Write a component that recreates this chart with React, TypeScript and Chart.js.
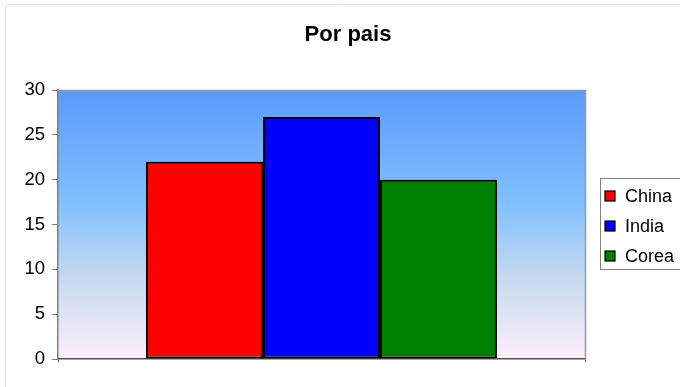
import React, { useEffect, useRef } from 'react';
import { Chart, registerables } from 'chart.js';

Chart.register(...registerables);

// Chart content
const chartTitle = 'Por pais';
const categories = [''];
const seriesNames = ['China', 'India', 'Corea'];
const seriesValues = [22, 27, 20];
const seriesColors = ['#ff0000', '#0000ff', '#008000'];
const yMin = 0;
const yMax = 30;
const yStep = 5;

const FONT = "'Liberation Sans', Arial, Helvetica, sans-serif";

// Gradient plot background, plot frame and faint outer frame
const plotBackground = {
  id: 'plotBackground',
  beforeDraw(chart: any) {
    const { ctx, chartArea: a, width, height } = chart;
    ctx.save();
    // outer chart frame
    ctx.strokeStyle = '#e4e4e4';
    ctx.lineWidth = 1;
    ctx.beginPath();
    ctx.moveTo(5.5, height + 2);
    ctx.lineTo(5.5, 4.5);
    ctx.lineTo(width + 2, 4.5);
    ctx.stroke();
    // gradient fill
    const g = ctx.createLinearGradient(0, a.top, 0, a.bottom);
    g.addColorStop(0, '#5c9aff');
    g.addColorStop(0.42, '#80c0ff');
    g.addColorStop(0.7, '#c6d9ef');
    g.addColorStop(1, '#fdeefa');
    ctx.fillStyle = g;
    ctx.fillRect(a.left, a.top, a.right - a.left, a.bottom - a.top);
    ctx.restore();
  },
  afterDatasetsDraw(chart: any) {
    const { ctx, chartArea: a } = chart;
    ctx.save();
    ctx.strokeStyle = '#999999';
    ctx.lineWidth = 1.5;
    ctx.beginPath();
    ctx.moveTo(a.left, a.top + 0.5);
    ctx.lineTo(a.right + 0.5, a.top + 0.5);
    ctx.lineTo(a.right + 0.5, a.bottom);
    ctx.stroke();
    ctx.restore();
  },
};

// Title and boxed legend on the right
const titleAndLegend = {
  id: 'titleAndLegend',
  afterDraw(chart: any) {
    const { ctx } = chart;
    ctx.save();
    ctx.fillStyle = '#000';
    ctx.font = `bold 22px ${FONT}`;
    ctx.textAlign = 'center';
    ctx.textBaseline = 'middle';
    ctx.fillText(chartTitle, 348, 35);

    const boxX = 600.5;
    const boxY = 178.5;
    ctx.strokeStyle = '#808080';
    ctx.lineWidth = 1;
    ctx.strokeRect(boxX, boxY, 100, 91);

    ctx.font = `18px ${FONT}`;
    ctx.textAlign = 'left';
    chart.data.datasets.forEach((ds: any, i: number) => {
      const cy = 196 + i * 30;
      ctx.fillStyle = ds.backgroundColor;
      ctx.fillRect(605, cy - 5, 10, 10);
      ctx.strokeStyle = '#000';
      ctx.lineWidth = 1.2;
      ctx.strokeRect(605, cy - 5, 10, 10);
      ctx.fillStyle = '#000';
      ctx.fillText(ds.label, 625, cy + 1);
    });
    ctx.restore();
  },
};

export default function App() {
  const canvasRef = useRef<HTMLCanvasElement>(null);

  useEffect(() => {
    if (!canvasRef.current) return;
    const chart = new Chart(canvasRef.current, {
      type: 'bar',
      data: {
        labels: categories,
        datasets: seriesNames.map((name, i) => ({
          label: name,
          data: [seriesValues[i]],
          backgroundColor: seriesColors[i],
          borderColor: '#000000',
          borderWidth: 2,
          borderSkipped: false,
          categoryPercentage: 0.666,
          barPercentage: 1.0,
        })),
      },
      options: {
        responsive: false,
        animation: false,
        layout: { padding: { left: 0, top: 90, right: 95, bottom: 0 } },
        plugins: {
          legend: { display: false },
          title: { display: false },
          tooltip: { enabled: false },
        },
        scales: {
          x: {
            type: 'category',
            offset: true,
            ticks: { display: false },
            grid: {
              display: true,
              offset: true,
              drawOnChartArea: false,
              drawTicks: true,
              tickLength: 3,
              color: '#505050',
            },
            border: { display: true, color: '#505050', width: 1.5 },
            afterFit: (s: any) => {
              s.height = 28;
            },
          },
          y: {
            min: yMin,
            max: yMax,
            ticks: {
              stepSize: yStep,
              padding: 7,
              color: '#000000',
              font: { family: FONT, size: 18.5 },
            },
            grid: {
              drawOnChartArea: false,
              drawTicks: true,
              tickLength: 6,
              color: '#808080',
            },
            border: { display: true, color: '#808080', width: 1.5 },
            afterFit: (s: any) => {
              s.width = 58;
            },
          },
        },
      },
      plugins: [plotBackground, titleAndLegend],
    });
    return () => chart.destroy();
  }, []);

  return (
    <div style={{ position: 'fixed', left: 0, top: 0, width: 680, height: 387, background: '#ffffff' }}>
      <canvas ref={canvasRef} width={680} height={387} style={{ display: 'block' }} />
    </div>
  );
}
